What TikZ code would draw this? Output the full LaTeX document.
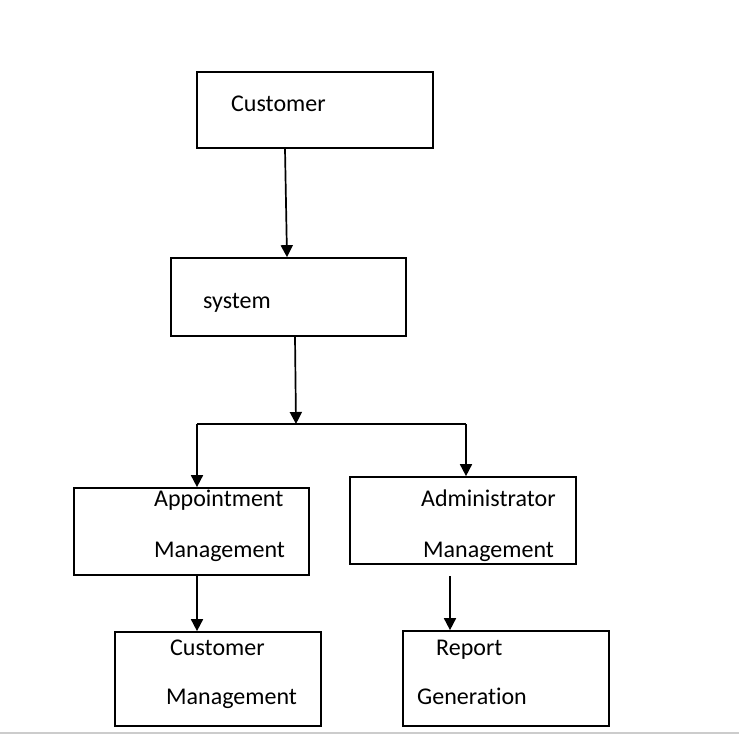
\documentclass[tikz,border=0pt]{standalone}
\usepackage{fontspec}
\setmainfont{Carlito}[Ligatures=NoCommon]
\usetikzlibrary{arrows.meta,calc}
\begin{document}
\begin{tikzpicture}[x=1bp,y=-1bp,
  box/.style={draw,line width=1.7bp,inner sep=0pt,minimum width=#1},
  lbl/.style={anchor=base west,inner sep=0pt,font=\fontsize{24bp}{28bp}\selectfont},
  arr/.style={line width=1.7bp,-{Triangle[width=12bp,length=12bp]}},
  ln/.style={line width=1.7bp}]
\useasboundingbox (0,0) rectangle (739,735);
\draw[line width=1.2bp,black!20] (0,733) -- (739,733);
% boxes
\node[box=236bp,minimum height=76bp] (cust) at (315,110) {};
\node[box=235bp,minimum height=78bp] (sys) at (288.5,297) {};
\node[box=235bp,minimum height=87bp] (appt) at (191.5,531.5) {};
\node[box=226bp,minimum height=87bp] (admin) at (463,520.5) {};
\node[box=206bp,minimum height=94bp] (custm) at (218,679) {};
\node[box=206bp,minimum height=95bp] (rep) at (506,678.5) {};
% labels
\node[lbl] (t1) at (231,112) {Customer};
\node[lbl] (t2) at (203,308) {system};
\node[lbl] (t3) at (154,506) {Appointment};
\node[lbl] (t4) at (154,557) {Management};
\node[lbl] (t5) at (421,506) {Administrator};
\node[lbl] (t6) at (423,557) {Management};
\node[lbl] (t7) at (170,655) {Customer};
\node[lbl] (t8) at (166,704) {Management};
\node[lbl] (t9) at (436,655) {Report};
\node[lbl] (t10) at (417,704) {Generation};
% connectors
\coordinate (j) at (296,424);
\coordinate (jl) at (197,424);
\coordinate (jr) at (466,424);
\coordinate (a0) at (450,576);
\draw[arr] ([xshift=-30bp]cust.south) -- ([xshift=-1.5bp]sys.north);
\draw[arr] ([xshift=6.5bp]sys.south) -- (j);
\draw[ln] (jl) -- (jr);
\draw[arr] (jl) -- (jl |- appt.north);
\draw[arr] (jr) -- (jr |- admin.north);
\draw[arr] (appt.south -| jl) -- (custm.north -| jl);
\draw[arr] (a0) -- (a0 |- rep.north);
\end{tikzpicture}
\end{document}
